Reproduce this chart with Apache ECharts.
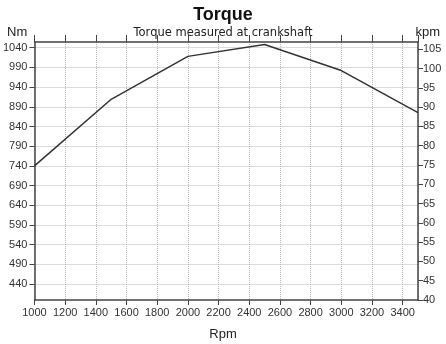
<!DOCTYPE html>
<html><head><meta charset="utf-8">
<script src="https://cdn.jsdelivr.net/npm/echarts@6/dist/echarts.min.js"></script>
<style>html,body{margin:0;padding:0;background:#fff}#c{width:446px;height:344px}</style>
</head><body><div id="c"></div>
<script>
const rpm = [1000, 1500, 2000, 2500, 3000, 3500];
const torqueNm = [740, 909, 1018, 1048, 982, 875];
const nmTicks = [440, 490, 540, 590, 640, 690, 740, 790, 840, 890, 940, 990, 1040];
const titleText = 'Torque';
const subtitleText = 'Torque measured at crankshaft';
const leftUnit = 'Nm';
const rightUnit = 'kpm';
const xName = 'Rpm';

const chart = echarts.init(document.getElementById('c'));
const lblFont = "'Liberation Sans Narrow', 'Liberation Sans', Arial, sans-serif";
const frame = {lineStyle: {color: '#444', width: 1.5}};
const grid = {type: 'dotted', color: '#b8b8b8', width: 1};
const plain = v => String(v);
chart.setOption({
  animation: false,
  backgroundColor: '#fff',
  title: [
    {text: titleText, left: 'center', top: 1, textStyle: {fontSize: 18, fontWeight: 'bold', color: '#111', fontFamily: 'Liberation Sans, Arial'}},
    {text: subtitleText, left: 'center', top: 22, textStyle: {fontSize: 11.5, fontWeight: 'normal', color: '#222', fontFamily: 'DejaVu Sans'}},
    {text: leftUnit, left: 2, top: 21, textStyle: {fontSize: 13, fontWeight: 'normal', color: '#222', fontFamily: 'Liberation Sans, Arial'}},
    {text: rightUnit, right: 1, top: 21, textStyle: {fontSize: 13, fontWeight: 'normal', color: '#222', fontFamily: 'Liberation Sans, Arial'}},
    {text: xName, left: 'center', top: 323, textStyle: {fontSize: 13, fontWeight: 'normal', color: '#222', fontFamily: 'Liberation Sans, Arial'}}
  ],
  grid: {left: 33, right: 28, top: 42, bottom: 44, containLabel: false},
  xAxis: [
    {type: 'value', position: 'bottom', min: 1000, max: 3500, interval: 200,
     axisLine: frame, axisTick: {show: true, inside: false, length: 5, lineStyle: {color: '#444', width: 1}},
     axisLabel: {fontSize: 11, color: '#333', margin: 7, fontFamily: lblFont, showMaxLabel: false, formatter: plain},
     splitLine: {show: true, lineStyle: grid}},
    {type: 'value', position: 'top', min: 1000, max: 3500, interval: 200,
     axisLine: frame, axisTick: {show: true, inside: false, length: 7, lineStyle: {color: '#444', width: 1}},
     axisLabel: {show: false}, splitLine: {show: false}}
  ],
  yAxis: [
    {type: 'value', position: 'left', min: 399.4, max: 1054.5,
     axisLine: {show: true, lineStyle: {color: '#444', width: 1.5}},
     axisTick: {show: true, inside: false, length: 5, customValues: nmTicks, lineStyle: {color: '#444', width: 1}},
     axisLabel: {fontSize: 11, color: '#333', margin: 7, fontFamily: lblFont, customValues: nmTicks, formatter: plain},
     splitLine: {show: true, lineStyle: grid, customValues: nmTicks}},
    {type: 'value', position: 'right', min: 40, max: 106.9, interval: 5,
     axisLine: {show: true, lineStyle: {color: '#444', width: 1.5}},
     axisTick: {show: true, inside: false, length: 5, lineStyle: {color: '#444', width: 1}},
     axisLabel: {fontSize: 11, color: '#333', margin: 5, fontFamily: lblFont, showMaxLabel: false, formatter: plain},
     splitLine: {show: false}}
  ],
  series: [{
    type: 'line', xAxisIndex: 0, yAxisIndex: 0, showSymbol: false, symbol: 'none',
    data: rpm.map((r, i) => [r, torqueNm[i]]),
    lineStyle: {color: '#333', width: 1.5}
  }]
});
</script></body></html>
